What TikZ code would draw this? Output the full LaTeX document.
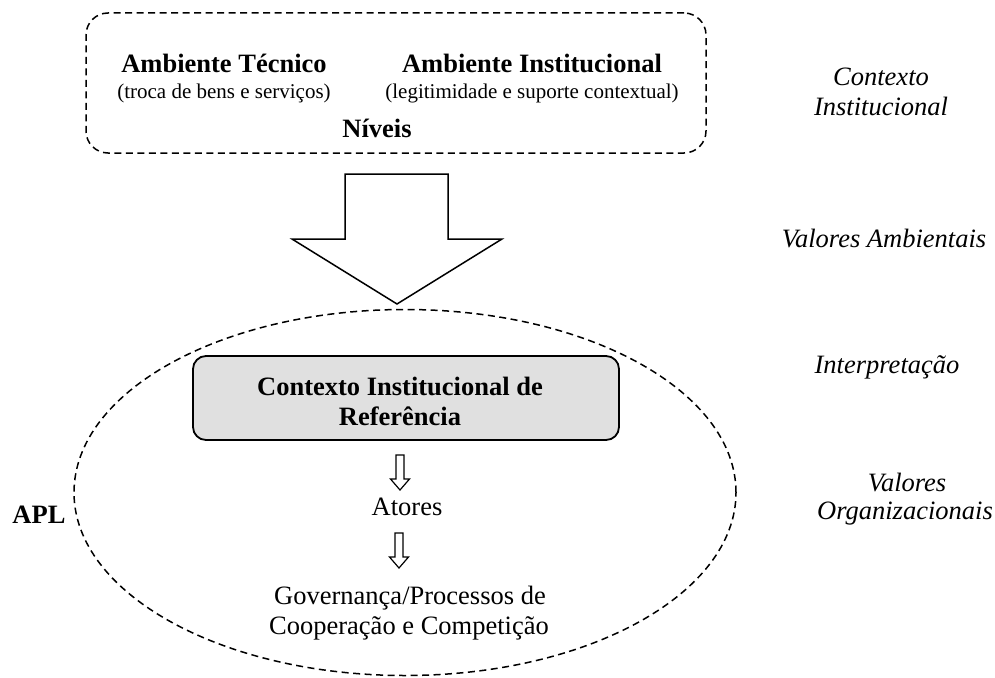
\documentclass[tikz,border=0pt]{standalone}
\usepackage{fontspec}
\setmainfont{Liberation Serif}
\definecolor{boxgray}{RGB}{224,224,224}
\begin{document}
\begin{tikzpicture}[x=1pt,y=-1pt,
  bigtxt/.style={font=\fontsize{26.5}{30}\selectfont\bfseries},
  regtxt/.style={font=\fontsize{26.5}{30}\selectfont},
  subtxt/.style={font=\fontsize{21}{24}\selectfont},
  sidetxt/.style={font=\fontsize{26.5}{30}\selectfont\itshape},
  txt/.style={inner sep=0pt, anchor=base},
  dashline/.style={line width=1.5pt, dash pattern=on 7pt off 4.5pt},
  outl/.style={draw, line width=1.5pt, fill=white, line join=miter},
  smallarr/.style={draw, line width=1.2pt, fill=white, line join=miter}]
\useasboundingbox (0,0) rectangle (995,677);

% top dashed box
\node[draw, dashline, rounded corners=22pt, minimum width=620pt, minimum height=140pt, inner sep=0pt] (top) at (396,83) {};
\node[txt,bigtxt] (at) at (224,73) {Ambiente Técnico};
\node[txt,subtxt] (ats) at (224,98) {(troca de bens e serviços)};
\node[txt,bigtxt] (ai) at (532,73) {Ambiente Institucional};
\node[txt,subtxt] (ais) at (532,98) {(legitimidade e suporte contextual)};
\node[txt,bigtxt] (niv) at (377,137) {Níveis};

% big arrow
\draw[outl] (345,174) -- (448,174) -- (448,239) -- (502,239) -- (397,304) -- (292,239) -- (345,239) -- cycle;

% ellipse
\draw[dashline] (405,492.5) ellipse [x radius=331pt, y radius=183pt];

% gray box
\node[draw, fill=boxgray, rounded corners=13pt, line width=1.8pt, minimum width=426pt, minimum height=84pt, inner sep=0pt] (cir) at (406,398) {};
\node[txt,bigtxt] (cir1) at (400,395) {Contexto Institucional de};
\node[txt,bigtxt] (cir2) at (400,425) {Referência};

% small arrows
\draw[smallarr] (396,455) -- (404,455) -- (404,479) -- (409.5,479) -- (400,490) -- (390.5,479) -- (396,479) -- cycle;
\node[txt,regtxt] (atores) at (407,515) {Atores};
\draw[smallarr] (395,533) -- (403,533) -- (403,557) -- (408.5,557) -- (399,568) -- (389.5,557) -- (395,557) -- cycle;
\node[txt,regtxt] (gov1) at (410,604) {Governança/Processos de};
\node[txt,regtxt] (gov2) at (409,634) {Cooperação e Competição};

\node[txt,bigtxt] (apl) at (39,523) {APL};

% side labels
\node[txt,sidetxt] (s1a) at (881,85) {Contexto};
\node[txt,sidetxt] (s1b) at (881,115) {Institucional};
\node[txt,sidetxt] (s2) at (884,247) {Valores Ambientais};
\node[txt,sidetxt] (s3) at (887,373) {Interpretação};
\node[txt,sidetxt] (s4a) at (907,491) {Valores};
\node[txt,sidetxt] (s4b) at (905,519) {Organizacionais};
\end{tikzpicture}
\end{document}
